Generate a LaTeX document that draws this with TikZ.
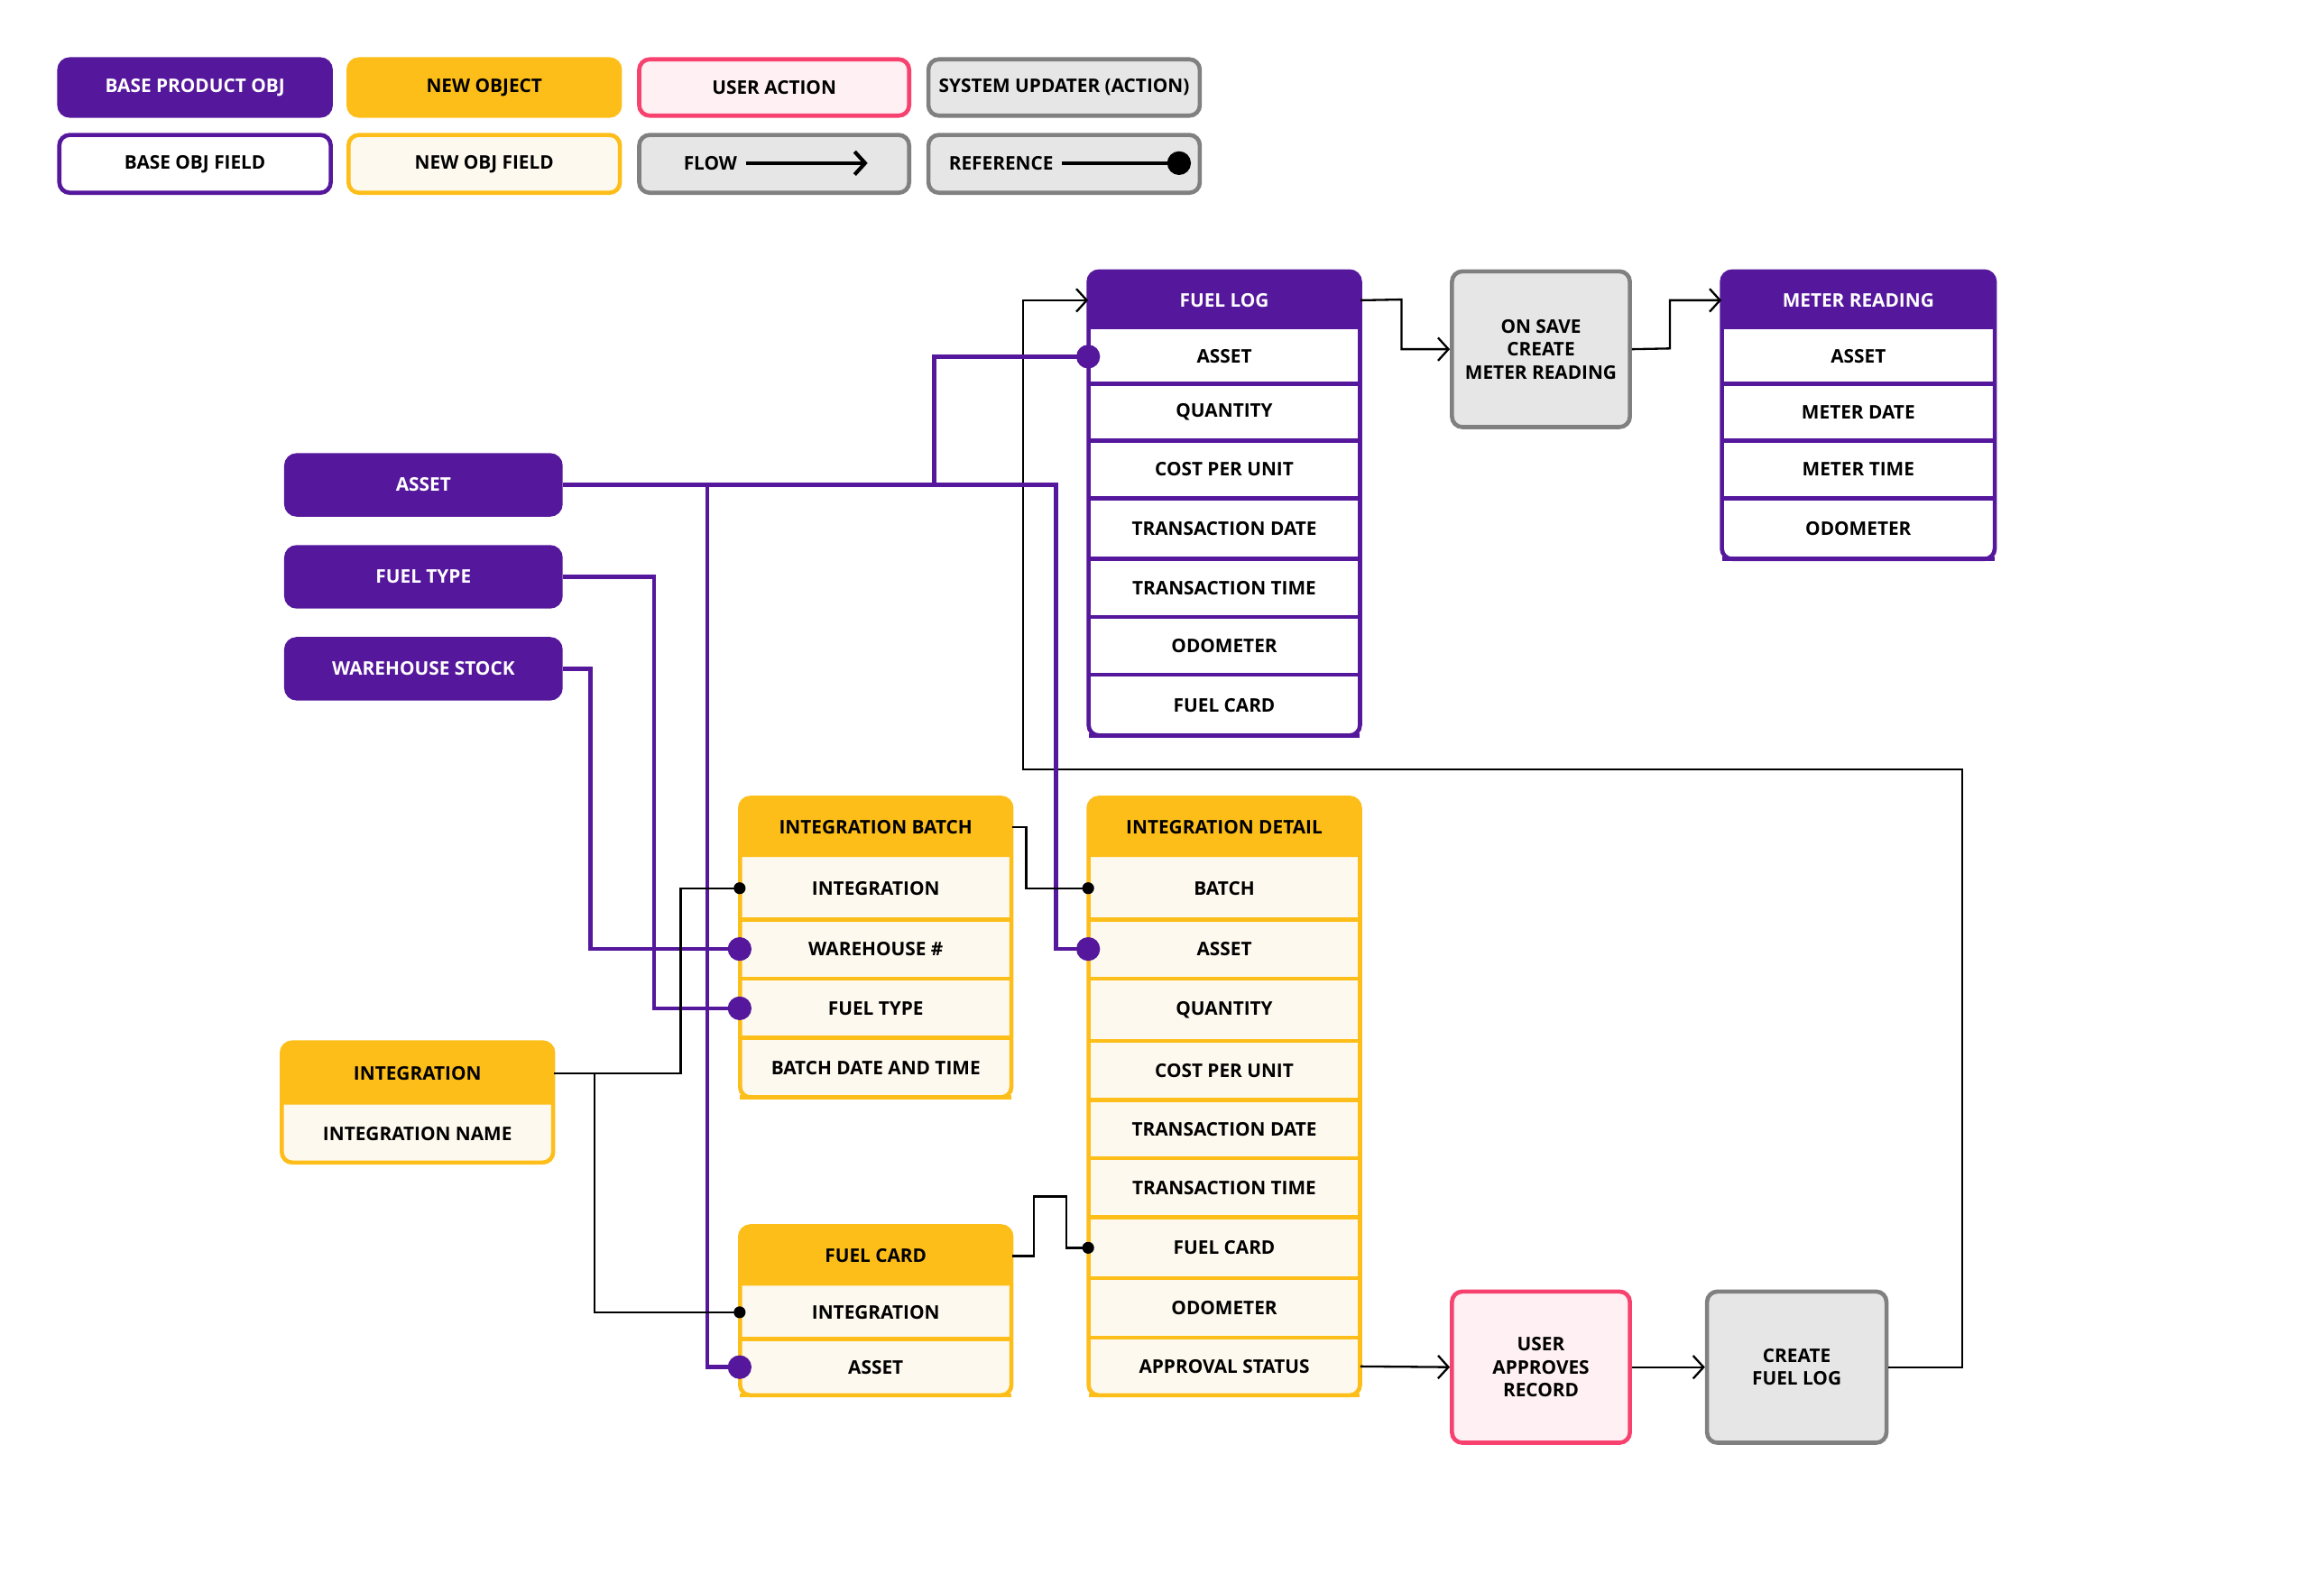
\documentclass[tikz,border=0pt]{standalone}
\usepackage{fontspec}
\setmainfont{Open Sans}
\usetikzlibrary{fit,arrows.meta}
\definecolor{pur}{HTML}{55179B}
\definecolor{yel}{HTML}{FDBE19}
\definecolor{yfield}{HTML}{FEF9EE}
\definecolor{pink}{HTML}{F7426F}
\definecolor{pinkf}{HTML}{FEF0F3}
\definecolor{gry}{HTML}{808080}
\definecolor{gryf}{HTML}{E6E6E6}
\tikzset{x=0.025cm,y=-0.025cm,
  txt/.style={font=\fontsize{9}{11}\selectfont\bfseries,align=center,inner sep=0pt},
  pfield/.style={fill=white}, yfield/.style={fill=yfield},
  pheadfill/.style={fill=pur}, yheadfill/.style={fill=yel},
  phtext/.style={txt,text=white}, yhtext/.style={txt,text=black},
  pline/.style={draw=pur,line width=2pt}, yline/.style={draw=yel,line width=2pt},
  flow/.style={draw=black,line width=1pt,-{Straight Barb[length=5pt,width=11pt]}},
  bref/.style={draw=black,line width=1pt},
  pref/.style={draw=pur,line width=2pt},
  box/.style={inner sep=0pt,rounded corners=5pt,line width=2pt},
  lab/.style={label={[txt]center:{#1}}},
  wlab/.style={label={[txt,text=white]center:{#1}}},
}
\newcommand\tbl[8]{%
  \path[#7field,rounded corners=5pt] (#2,#4) rectangle (#3,#6);
  \path[#7headfill] (#2,#5) [rounded corners=5pt] -- (#2,#4) -- (#3,#4) [sharp corners] -- (#3,#5) -- cycle;
  \node[fit={(#2,#4)(#3,#5)},inner sep=0pt,label={[#7htext]center:{#8}}] (#1) {};
}
\newcommand\tblborder[5]{\draw[#5line,rounded corners=5pt] (#1,#2) rectangle (#3,#4);}
\newcommand\pdot[1]{\fill[pur] (#1) circle (8);}
\newcommand\bdot[1]{\fill[black] (#1) circle (4);}
\begin{document}
\begin{tikzpicture}
\useasboundingbox (0,0) rectangle (1567,1067);
% legend
\node[box,draw=pur,fill=pur,wlab=BASE PRODUCT OBJ,fit={(40,40)(223,78)}] (lg1) {};
\node[box,draw=yel,fill=yel,lab=NEW OBJECT,fit={(235,40)(418,78)}] (lg2) {};
\node[box,draw=pink,fill=pinkf,lab=USER ACTION,fit={(431,40)(613,78)}] (lg3) {};
\node[box,draw=gry,fill=gryf,lab=SYSTEM UPDATER (ACTION),fit={(626,40)(809,78)}] (lg4) {};
\node[box,draw=pur,fill=white,lab=BASE OBJ FIELD,fit={(40,91)(223,130)}] (lg5) {};
\node[box,draw=yel,fill=yfield,lab=NEW OBJ FIELD,fit={(235,91)(418,130)}] (lg6) {};
\node[box,draw=gry,fill=gryf,fit={(431,91)(613,130)}] (lg7) {};
\node[txt] (lg7t) at (479,110) {FLOW};
\coordinate (lf1) at (503,110); \coordinate (lf2) at (585,110);
\draw[flow,line width=1.8pt] (lf1) -- (lf2);
\node[box,draw=gry,fill=gryf,fit={(626,91)(809,130)}] (lg8) {};
\node[txt] (lg8t) at (675,110) {REFERENCE};
\coordinate (lr1) at (716,110); \coordinate (lr2) at (795,110);
\draw[line width=1.8pt] (lr1) -- (lr2); \fill (lr2) circle (8);
% FUEL LOG
\tbl{fl}{734}{917}{183}{222}{496}{p}{FUEL LOG}
\foreach \n/\a/\b/\t in {a/222/259/ASSET,q/259/297/QUANTITY,c/297/336/COST PER UNIT,d/336/377/TRANSACTION DATE,t/377/416/TRANSACTION TIME,o/416/455/ODOMETER,f/455/496/FUEL CARD}
 {\node[inner sep=0pt,lab=\t,fit={(734,\a)(917,\b)}] (fl\n) {}; \draw[pur,line width=2pt] (734,\b) -- (917,\b);}
\tblborder{734}{183}{917}{496}{p}
% METER READING
\tbl{mr}{1161}{1345}{183}{222}{377}{p}{METER READING}
\foreach \n/\a/\b/\t in {a/222/259/ASSET,d/259/297/METER DATE,t/297/336/METER TIME,o/336/377/ODOMETER}
 {\node[inner sep=0pt,lab=\t,fit={(1161,\a)(1345,\b)}] (mr\n) {}; \draw[pur,line width=2pt] (1161,\b) -- (1345,\b);}
\tblborder{1161}{183}{1345}{377}{p}
% actions
\node[box,draw=gry,fill=gryf,lab={ON SAVE\\CREATE\\METER READING},fit={(979,183)(1099,288)}] (os) {};
\node[box,draw=pink,fill=pinkf,lab={USER\\APPROVES\\RECORD},fit={(979,871)(1099,973)}] (ua) {};
\node[box,draw=gry,fill=gryf,lab={CREATE\\FUEL LOG},fit={(1151,871)(1272,973)}] (cf) {};
% base objects
\node[box,draw=pur,fill=pur,wlab=ASSET,fit={(193,307)(378,347)}] (asset) {};
\node[box,draw=pur,fill=pur,wlab=FUEL TYPE,fit={(193,369)(378,409)}] (ft) {};
\node[box,draw=pur,fill=pur,wlab=WAREHOUSE STOCK,fit={(193,431)(378,471)}] (wh) {};
% INTEGRATION BATCH
\tbl{ib}{499}{682}{538}{578}{740}{y}{INTEGRATION BATCH}
\foreach \n/\a/\b/\t in {i/578/620/INTEGRATION,w/620/660/WAREHOUSE \#,f/660/700/FUEL TYPE,b/700/740/BATCH DATE AND TIME}
 {\node[inner sep=0pt,lab=\t,fit={(499,\a)(682,\b)}] (ib\n) {}; \draw[yel,line width=2pt] (499,\b) -- (682,\b);}
\tblborder{499}{538}{682}{740}{y}
% INTEGRATION DETAIL
\tbl{id}{734}{917}{538}{578}{941}{y}{INTEGRATION DETAIL}
\foreach \n/\a/\b/\t in {b/578/620/BATCH,a/620/660/ASSET,q/660/702/QUANTITY,c/702/742/COST PER UNIT,d/742/781/TRANSACTION DATE,t/781/821/TRANSACTION TIME,f/821/862/FUEL CARD,o/862/902/ODOMETER,s/902/941/APPROVAL STATUS}
 {\node[inner sep=0pt,lab=\t,fit={(734,\a)(917,\b)}] (id\n) {}; \draw[yel,line width=2pt] (734,\b) -- (917,\b);}
\tblborder{734}{538}{917}{941}{y}
% INTEGRATION
\tbl{int}{190}{373}{703}{745}{784}{y}{INTEGRATION}
\node[inner sep=0pt,lab=INTEGRATION NAME,fit={(190,745)(373,784)}] (intn) {};
\tblborder{190}{703}{373}{784}{y}
% FUEL CARD
\tbl{fc}{499}{682}{827}{867}{941}{y}{FUEL CARD}
\foreach \n/\a/\b/\t in {i/867/903/INTEGRATION,a/903/941/ASSET}
 {\node[inner sep=0pt,lab=\t,fit={(499,\a)(682,\b)}] (fc\n) {}; \draw[yel,line width=2pt] (499,\b) -- (682,\b);}
\tblborder{499}{827}{682}{941}{y}
% flows
\coordinate (c1) at (945,202); \draw[flow] (fl.east) -- (c1) |- (os.west);
\coordinate (c2) at (1126,235); \draw[flow] (os.east) -- (c2) |- (mr.west);
\coordinate (c3) at (1323,519); \coordinate (c4) at (690,519);
\draw[flow] (cf.east) -| (c3) -- (c4) |- (fl.west);
\draw[flow] (ids.east) -- (ua.west);
\draw[flow] (ua.east) -- (cf.west);
% purple references
\coordinate (p1) at (630,327); \coordinate (p2) at (712,327); \coordinate (p3) at (477,327);
\draw[pref] (asset.east) -- (p1) |- (fla.west);
\draw[pref] (p1) -- (p2) |- (ida.west);
\draw[pref] (p3) |- (fca.west);
\coordinate (p4) at (441,389); \draw[pref] (ft.east) -- (p4) |- (ibf.west);
\coordinate (p5) at (398,451); \draw[pref] (wh.east) -- (p5) |- (ibw.west);
\pdot{fla.west}\pdot{ida.west}\pdot{fca.west}\pdot{ibf.west}\pdot{ibw.west}
% black references
\coordinate (b1) at (459,724); \draw[bref] (int.east) -- (b1) |- (ibi.west);
\coordinate (b2) at (401,724); \draw[bref] (b2) |- (fci.west);
\coordinate (b3) at (692,558); \draw[bref] (ib.east) -- (b3) |- (idb.west);
\coordinate (b4) at (697,847); \coordinate (b5) at (697,807); \coordinate (b6) at (719,807);
\draw[bref] (fc.east) -- (b4) -- (b5) -- (b6) |- (idf.west);
\bdot{ibi.west}\bdot{fci.west}\bdot{idb.west}\bdot{idf.west}
\end{tikzpicture}
\end{document}
